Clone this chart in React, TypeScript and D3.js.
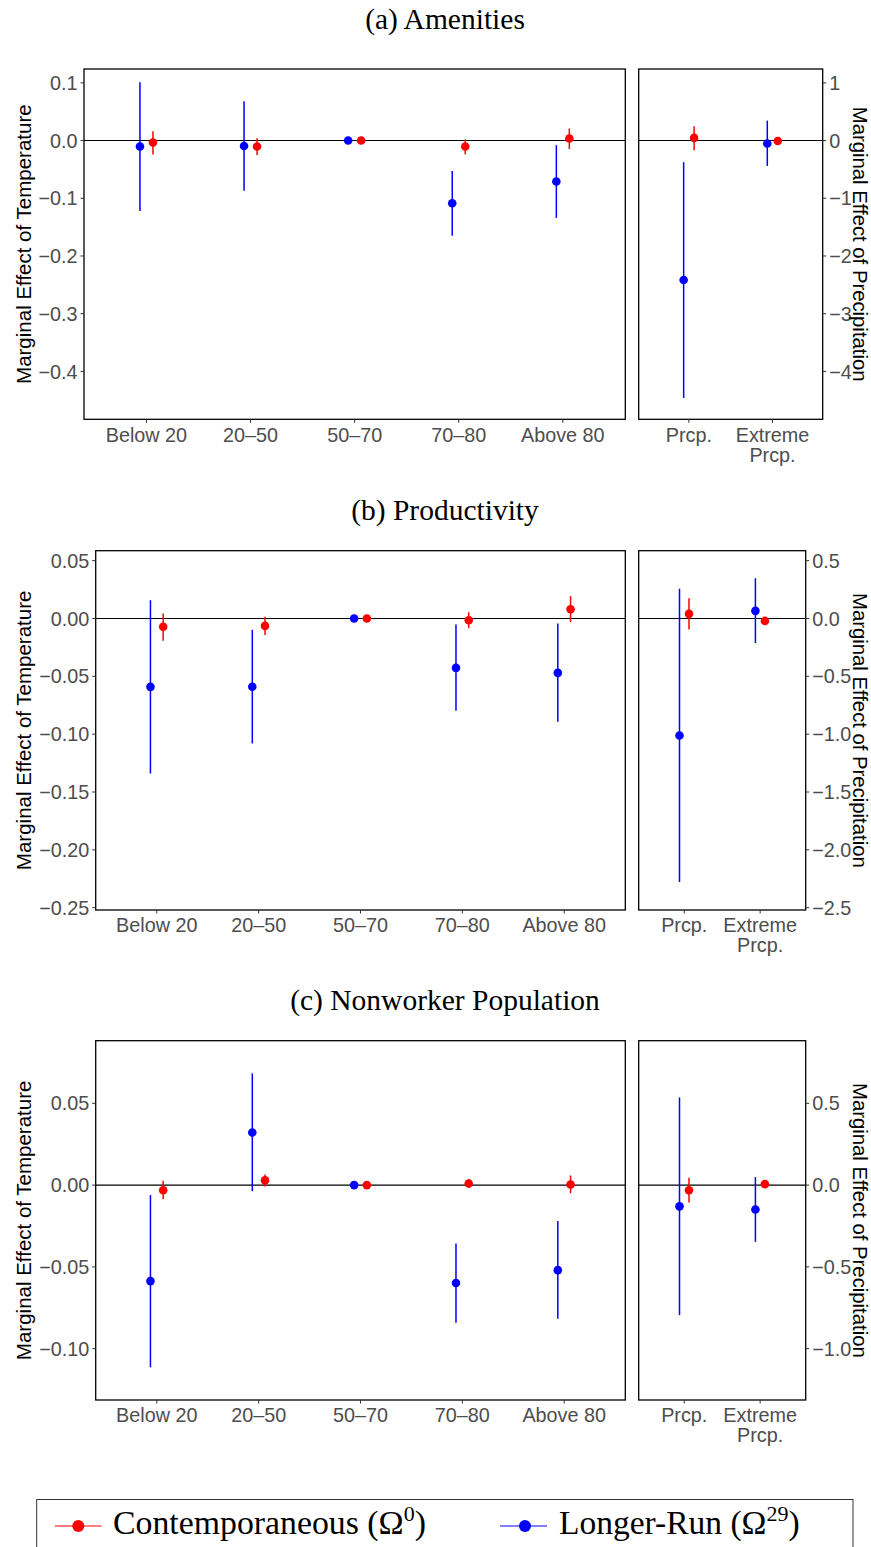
import React from "react";
import * as d3 from "d3";

// ---------- categories ----------
const tempCategories = ["Below 20", "20–50", "50–70", "70–80", "Above 80"];
const precipCategories = [["Prcp."], ["Extreme", "Prcp."]];

// ---------- (a) Amenities ----------
const amenTempContEst = [-0.0035, -0.0104, 0, -0.0104, 0.0035];
const amenTempContLo = [-0.024, -0.025, 0, -0.024, -0.0145];
const amenTempContHi = [0.016, 0.004, 0, 0.002, 0.021];
const amenTempLongEst = [-0.0104, -0.0093, 0, -0.1087, -0.071];
const amenTempLongLo = [-0.122, -0.087, 0, -0.165, -0.134];
const amenTempLongHi = [0.101, 0.068, 0, -0.0527, -0.008];
const amenPrecContEst = [0.046, -0.007];
const amenPrecContLo = [-0.168, -0.05];
const amenPrecContHi = [0.248, 0.04];
const amenPrecLongEst = [-2.416, -0.052];
const amenPrecLongLo = [-4.46, -0.44];
const amenPrecLongHi = [-0.376, 0.346];
const amenTempTicks = [0.1, 0, -0.1, -0.2, -0.3, -0.4];
const amenPrecTicks = [1, 0, -1, -2, -3, -4];

// ---------- (b) Productivity ----------
const prodTempContEst = [-0.0072, -0.0064, 0, -0.0015, 0.008];
const prodTempContLo = [-0.0193, -0.0142, 0, -0.0084, -0.0032];
const prodTempContHi = [0.0043, 0.0014, 0, 0.0054, 0.0193];
const prodTempLongEst = [-0.0591, -0.059, 0, -0.0427, -0.047];
const prodTempLongLo = [-0.134, -0.108, 0, -0.0798, -0.0893];
const prodTempLongHi = [0.0158, -0.0098, 0, -0.0052, -0.0043];
const prodPrecContEst = [0.04, -0.021];
const prodPrecContLo = [-0.095, -0.045];
const prodPrecContHi = [0.175, 0.003];
const prodPrecLongEst = [-1.011, 0.066];
const prodPrecLongLo = [-2.278, -0.213];
const prodPrecLongHi = [0.256, 0.348];
const prodTempTicks = [0.05, 0, -0.05, -0.1, -0.15, -0.2, -0.25];
const prodPrecTicks = [0.5, 0, -0.5, -1, -1.5, -2, -2.5];

// ---------- (c) Nonworker Population ----------
const nonwTempContEst = [-0.0031, 0.0029, 0, 0.001, 0.0004];
const nonwTempContLo = [-0.0087, -0.0008, 0, -0.0018, -0.005];
const nonwTempContHi = [0.0026, 0.0065, 0, 0.0037, 0.0059];
const nonwTempLongEst = [-0.0587, 0.0322, 0, -0.0599, -0.052];
const nonwTempLongLo = [-0.1114, -0.0037, 0, -0.0842, -0.0817];
const nonwTempLongHi = [-0.0061, 0.0683, 0, -0.0357, -0.022];
const nonwPrecContEst = [-0.031, 0.006];
const nonwPrecContLo = [-0.106, -0.015];
const nonwPrecContHi = [0.045, 0.025];
const nonwPrecLongEst = [-0.13, -0.149];
const nonwPrecLongLo = [-0.795, -0.347];
const nonwPrecLongHi = [0.536, 0.049];
const nonwTempTicks = [0.05, 0, -0.05, -0.1];
const nonwPrecTicks = [0.5, 0, -0.5, -1];

const RED = "#FF0000";
const BLUE = "#0000FF";
const SANS = "'Liberation Sans', Arial, Helvetica, sans-serif";
const SERIF = "'Liberation Serif', 'Times New Roman', serif";
const TICK_COLOR = "#4D4D4D";
const DODGE = 0.0625;

type Series = { est: number[]; lo: number[]; hi: number[] };

type PanelSpec = {
  title: string;
  titleY: number;
  top: number;
  bottom: number;
  lx0: number;
  lx1: number;
  rx0: number;
  rx1: number;
  tempDomain: [number, number];
  precDomain: [number, number];
  tempTicks: number[];
  precTicks: number[];
  tempFmt: string;
  precFmt: string;
  tempCont: Series;
  tempLong: Series;
  precCont: Series;
  precLong: Series;
};

const panels: PanelSpec[] = [
  {
    title: "(a) Amenities",
    titleY: 28.5,
    top: 69,
    bottom: 419.3,
    lx0: 84,
    lx1: 625.3,
    rx0: 638.7,
    rx1: 822.7,
    tempDomain: [-0.483, 0.124],
    precDomain: [-4.83, 1.24],
    tempTicks: amenTempTicks,
    precTicks: amenPrecTicks,
    tempFmt: ".1f",
    precFmt: "d",
    tempCont: { est: amenTempContEst, lo: amenTempContLo, hi: amenTempContHi },
    tempLong: { est: amenTempLongEst, lo: amenTempLongLo, hi: amenTempLongHi },
    precCont: { est: amenPrecContEst, lo: amenPrecContLo, hi: amenPrecContHi },
    precLong: { est: amenPrecLongEst, lo: amenPrecLongLo, hi: amenPrecLongHi },
  },
  {
    title: "(b) Productivity",
    titleY: 520,
    top: 550.7,
    bottom: 910,
    lx0: 95.7,
    lx1: 625.3,
    rx0: 638.7,
    rx1: 805.7,
    tempDomain: [-0.252, 0.0586],
    precDomain: [-2.52, 0.586],
    tempTicks: prodTempTicks,
    precTicks: prodPrecTicks,
    tempFmt: ".2f",
    precFmt: ".1f",
    tempCont: { est: prodTempContEst, lo: prodTempContLo, hi: prodTempContHi },
    tempLong: { est: prodTempLongEst, lo: prodTempLongLo, hi: prodTempLongHi },
    precCont: { est: prodPrecContEst, lo: prodPrecContLo, hi: prodPrecContHi },
    precLong: { est: prodPrecLongEst, lo: prodPrecLongLo, hi: prodPrecLongHi },
  },
  {
    title: "(c) Nonworker Population",
    titleY: 1010,
    top: 1040.7,
    bottom: 1400,
    lx0: 95.7,
    lx1: 625.3,
    rx0: 638.7,
    rx1: 805.7,
    tempDomain: [-0.1314, 0.0883],
    precDomain: [-1.314, 0.883],
    tempTicks: nonwTempTicks,
    precTicks: nonwPrecTicks,
    tempFmt: ".2f",
    precFmt: ".1f",
    tempCont: { est: nonwTempContEst, lo: nonwTempContLo, hi: nonwTempContHi },
    tempLong: { est: nonwTempLongEst, lo: nonwTempLongLo, hi: nonwTempLongHi },
    precCont: { est: nonwPrecContEst, lo: nonwPrecContLo, hi: nonwPrecContHi },
    precLong: { est: nonwPrecLongEst, lo: nonwPrecLongLo, hi: nonwPrecLongHi },
  },
];

function Marks({
  series,
  x,
  y,
  offset,
  color,
}: {
  series: Series;
  x: d3.ScaleLinear<number, number>;
  y: d3.ScaleLinear<number, number>;
  offset: number;
  color: string;
}) {
  return (
    <g>
      {series.est.map((e, i) => {
        const cx = x(i + 1 + offset);
        return (
          <g key={i}>
            {series.hi[i] !== series.lo[i] && (
              <line
                x1={cx}
                x2={cx}
                y1={y(series.lo[i])}
                y2={y(series.hi[i])}
                stroke={color}
                strokeWidth={1.5}
              />
            )}
            <circle cx={cx} cy={y(e)} r={4.3} fill={color} />
          </g>
        );
      })}
    </g>
  );
}

function Panel({ p }: { p: PanelSpec }) {
  const xL = d3.scaleLinear().domain([0.4, tempCategories.length + 0.6]).range([p.lx0, p.lx1]);
  const xR = d3.scaleLinear().domain([0.4, precipCategories.length + 0.6]).range([p.rx0, p.rx1]);
  const yL = d3.scaleLinear().domain(p.tempDomain).range([p.bottom, p.top]);
  const yR = d3.scaleLinear().domain(p.precDomain).range([p.bottom, p.top]);
  const fT = d3.format(p.tempFmt);
  const fP = d3.format(p.precFmt);
  const midY = (p.top + p.bottom) / 2;
  const tickLen = 3.5;
  return (
    <g>
      <text x={445} y={p.titleY} textAnchor="middle" fontFamily={SERIF} fontSize={29.5} fill="#000">
        {p.title}
      </text>

      {/* zero lines */}
      <line x1={p.lx0} x2={p.lx1} y1={yL(0)} y2={yL(0)} stroke="#000" strokeWidth={1.1} />
      <line x1={p.rx0} x2={p.rx1} y1={yR(0)} y2={yR(0)} stroke="#000" strokeWidth={1.1} />

      {/* marks */}
      <Marks series={p.tempLong} x={xL} y={yL} offset={-DODGE} color={BLUE} />
      <Marks series={p.tempCont} x={xL} y={yL} offset={DODGE} color={RED} />
      <Marks series={p.precLong} x={xR} y={yR} offset={-DODGE} color={BLUE} />
      <Marks series={p.precCont} x={xR} y={yR} offset={DODGE} color={RED} />

      {/* frames */}
      <rect x={p.lx0} y={p.top} width={p.lx1 - p.lx0} height={p.bottom - p.top} fill="none" stroke="#000" strokeWidth={1.3} />
      <rect x={p.rx0} y={p.top} width={p.rx1 - p.rx0} height={p.bottom - p.top} fill="none" stroke="#000" strokeWidth={1.3} />

      {/* left y axis */}
      {p.tempTicks.map((t) => (
        <g key={"lt" + t}>
          <line x1={p.lx0 - tickLen} x2={p.lx0} y1={yL(t)} y2={yL(t)} stroke="#333" strokeWidth={1} />
          <text
            x={p.lx0 - tickLen - 3}
            y={yL(t)}
            dy="0.36em"
            textAnchor="end"
            fontFamily={SANS}
            fontSize={19.8}
            fill={TICK_COLOR}
          >
            {fT(t)}
          </text>
        </g>
      ))}
      <text
        transform={`translate(23.5,${midY}) rotate(-90)`}
        dy="0.35em"
        textAnchor="middle"
        fontFamily={SANS}
        fontSize={20.5}
        fill="#000"
      >
        Marginal Effect of Temperature
      </text>

      {/* right y axis */}
      {p.precTicks.map((t) => (
        <g key={"rt" + t}>
          <line x1={p.rx1} x2={p.rx1 + tickLen} y1={yR(t)} y2={yR(t)} stroke="#333" strokeWidth={1} />
          <text
            x={p.rx1 + tickLen + 3}
            y={yR(t)}
            dy="0.36em"
            textAnchor="start"
            fontFamily={SANS}
            fontSize={19.8}
            fill={TICK_COLOR}
          >
            {fP(t)}
          </text>
        </g>
      ))}
      <text
        transform={`translate(860.5,${midY}) rotate(90)`}
        dy="0.35em"
        textAnchor="middle"
        fontFamily={SANS}
        fontSize={20.3}
        fill="#000"
      >
        Marginal Effect of Precipitation
      </text>

      {/* x axes */}
      {tempCategories.map((c, i) => (
        <g key={"xl" + c}>
          <line x1={xL(i + 1)} x2={xL(i + 1)} y1={p.bottom} y2={p.bottom + tickLen} stroke="#333" strokeWidth={1} />
          <text x={xL(i + 1)} y={p.bottom + 22.4} textAnchor="middle" fontFamily={SANS} fontSize={19.8} fill={TICK_COLOR}>
            {c}
          </text>
        </g>
      ))}
      {precipCategories.map((lines, i) => (
        <g key={"xr" + i}>
          <line x1={xR(i + 1)} x2={xR(i + 1)} y1={p.bottom} y2={p.bottom + tickLen} stroke="#333" strokeWidth={1} />
          <text x={xR(i + 1)} y={p.bottom + 22.4} textAnchor="middle" fontFamily={SANS} fontSize={19.8} fill={TICK_COLOR}>
            {lines.map((l, j) => (
              <tspan key={j} x={xR(i + 1)} dy={j === 0 ? 0 : 20}>
                {l}
              </tspan>
            ))}
          </text>
        </g>
      ))}
    </g>
  );
}

function Legend() {
  const y = 1526;
  const baseline = 1534.3;
  return (
    <g>
      <rect x={36.7} y={1499.5} width={853 - 36.7} height={80} fill="#fff" stroke="#333" strokeWidth={1} />
      <line x1={55} x2={101.7} y1={y} y2={y} stroke={RED} strokeWidth={1} />
      <circle cx={78.3} cy={y} r={6} fill={RED} />
      <text x={113} y={baseline} fontFamily={SERIF} fontSize={33.8} fill="#000">
        Contemporaneous (Ω<tspan dy={-13} fontSize={22}>0</tspan>
        <tspan dy={13}>)</tspan>
      </text>
      <line x1={500} x2={547} y1={y} y2={y} stroke={BLUE} strokeWidth={1} />
      <circle cx={525} cy={y} r={6} fill={BLUE} />
      <text x={559} y={baseline} fontFamily={SERIF} fontSize={33.5} fill="#000">
        Longer-Run (Ω<tspan dy={-13} fontSize={22}>29</tspan>
        <tspan dy={13}>)</tspan>
      </text>
    </g>
  );
}

export default function App() {
  return (
    <svg
      width={871}
      height={1547}
      viewBox="0 0 871 1547"
      style={{ position: "absolute", left: 0, top: 0, background: "#fff" }}
    >
      <rect x={0} y={0} width={871} height={1547} fill="#fff" />
      {panels.map((p) => (
        <Panel key={p.title} p={p} />
      ))}
      <Legend />
    </svg>
  );
}
